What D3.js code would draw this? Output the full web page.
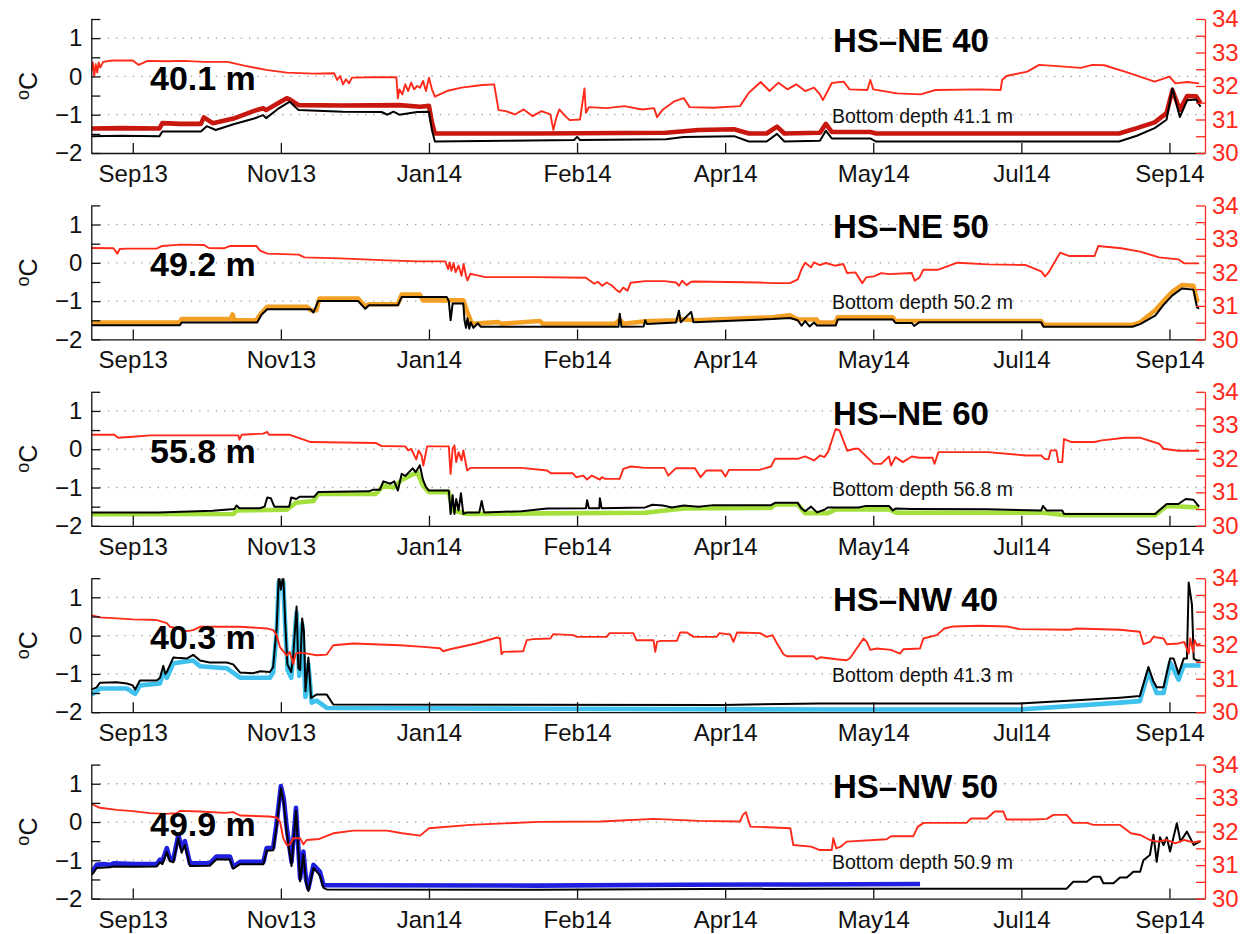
<!DOCTYPE html>
<html>
<head>
<meta charset="utf-8">
<script src="https://cdn.jsdelivr.net/npm/d3@7"></script>
<style>
  html, body { margin: 0; padding: 0; background: #fff; }
  svg { display: block; font-family: "Liberation Sans", Arial, Helvetica, sans-serif; }
</style>
</head>
<body>
<svg id="chart" width="1242" height="934"></svg>
<script>
// ---------------- data ----------------
// time axis: day offsets are counted from startDate
const startDate = new Date(2013, 8, 9);
const endDate = new Date(2014, 8, 20);
const tickDates = ["2013-09-23", "2013-11-12", "2014-01-01", "2014-02-20",
                   "2014-04-11", "2014-05-31", "2014-07-20", "2014-09-08"];
const tickLabels = ["Sep13", "Nov13", "Jan14", "Feb14", "Apr14", "May14", "Jul14", "Sep14"];
const tempTicks = [-2, -1.5, -1, -0.5, 0, 0.5, 1, 1.5];
const tempGrid = [-1, 0, 1];
const salTicks = [30, 30.5, 31, 31.5, 32, 32.5, 33, 33.5, 34];

const stations = ["HS\u2013NE 40", "HS\u2013NE 50", "HS\u2013NE 60", "HS\u2013NW 40", "HS\u2013NW 50"];
const sensorDepths = ["40.1 m", "49.2 m", "55.8 m", "40.3 m", "49.9 m"];
const bottomDepths = ["Bottom depth 41.1 m", "Bottom depth 50.2 m", "Bottom depth 56.8 m",
                      "Bottom depth 41.3 m", "Bottom depth 50.9 m"];
const sensorColors = ["#c8170f", "#f3a024", "#a3e03c", "#3ec1ec", "#1f1fe0"];

// [day, salinity]
const ne40Sal = [[0,32.45],[0.5,32.7],[1,32.3],[1.5,32.65],[2,32.4],[2.5,32.7],[3,32.55],[4,32.72],[7,32.76],[14,32.76],[16,32.63],[19,32.75],[25,32.74],[31,32.75],[38,32.72],[46,32.72],[52,32.6],[59,32.48],[66,32.4],[75,32.37],[82,32.38],[83,32.18],[84,32.3],[85,32.05],[86,32.2],[87,32.08],[88,32.25],[95,32.26],[103,32.26],[103.5,31.63],[104,31.9],[105,31.75],[106,32.05],[107,31.85],[108,32.1],[109,31.9],[110,32.0],[111,31.95],[112,32.15],[113,31.85],[114,32.25],[115,31.9],[116,31.68],[120,31.85],[125,31.95],[132,32.03],[136,32.05],[137.5,31.28],[140,31.25],[143,31.15],[146,31.3],[149,31.1],[152,31.25],[155,31.15],[156,30.69],[157,31.05],[158,31.3],[160,31.1],[161.5,30.98],[165,31.0],[166.5,31.93],[167,31.2],[168,31.37],[174,31.34],[180,31.4],[186,31.3],[190,31.34],[191,31.07],[193,31.3],[197,31.55],[200,31.64],[202,31.37],[210,31.35],[219,31.4],[222,31.8],[226,32.12],[229,31.85],[232,32.1],[235,31.9],[238,32.05],[241,31.85],[244,31.95],[246,31.75],[247,31.58],[250,32.09],[254,32.13],[256,31.9],[262,31.88],[263,32.18],[264,31.9],[272,31.78],[280,31.75],[285,31.88],[300,31.9],[307,31.88],[307.5,32.18],[309,32.3],[316,32.43],[320,32.63],[325,32.6],[334,32.54],[338,32.63],[342,32.62],[350,32.4],[359,32.13],[364,32.28],[366,32.08],[370,32.12],[374,32.08]];
// [day, temperature] at sensor depth
const ne40Temp = [[0,-1.36],[10,-1.35],[23,-1.36],[24,-1.22],[30,-1.24],[37,-1.24],[38,-1.07],[41,-1.22],[48,-1.1],[55,-0.9],[58,-0.83],[59,-0.88],[63,-0.7],[66,-0.57],[67,-0.6],[70,-0.75],[85,-0.76],[104,-0.75],[111,-0.79],[114,-0.77],[115,-1.2],[116,-1.49],[150,-1.49],[194,-1.47],[205,-1.4],[217,-1.38],[222,-1.49],[228,-1.49],[231.5,-1.31],[234,-1.49],[246,-1.47],[248,-1.24],[250,-1.45],[263,-1.45],[265,-1.49],[347,-1.49],[353,-1.35],[359,-1.2],[363,-0.96],[365,-0.36],[367.5,-0.87],[370,-0.51],[373,-0.52],[374.5,-0.7]];
// [day, temperature] near the bottom
const ne40Bot = [[0,-1.56],[10,-1.55],[23,-1.56],[24,-1.44],[37,-1.44],[39,-1.3],[42,-1.4],[48,-1.25],[55,-1.1],[58,-1.01],[59,-1.09],[63,-0.85],[67,-0.66],[70,-0.88],[85,-0.92],[98,-0.93],[100,-1.0],[102,-0.92],[104,-1.0],[110,-0.93],[114,-0.92],[115,-1.4],[116,-1.7],[140,-1.68],[163,-1.66],[164,-1.58],[165,-1.66],[194,-1.64],[200,-1.58],[217,-1.56],[222,-1.7],[228,-1.7],[231.5,-1.5],[234,-1.7],[246,-1.68],[248,-1.42],[250,-1.62],[263,-1.62],[265,-1.7],[347,-1.7],[353,-1.55],[359,-1.35],[363,-1.13],[365,-0.31],[367.5,-1.06],[370,-0.62],[373,-0.6],[374.5,-0.79]];

const ne50Sal = [[0,32.73],[7.5,32.72],[8.8,32.56],[9.6,32.7],[12,32.71],[22,32.71],[24,32.79],[30,32.83],[38,32.82],[39.7,32.73],[44.7,32.72],[47,32.79],[55.7,32.79],[57,32.65],[59.4,32.56],[70,32.53],[72,32.45],[84,32.42],[100,32.36],[110,32.33],[119.5,32.33],[120.5,32.1],[121,32.3],[121.6,32.05],[122.3,32.28],[123,32.0],[124,32.2],[125,31.9],[125.7,32.25],[126.5,31.9],[127,31.76],[128,31.96],[130,31.92],[133,31.86],[150,31.86],[167,31.84],[169.8,31.66],[171,31.72],[172.5,31.6],[174,31.7],[175.9,31.6],[177,31.5],[178.4,31.41],[179.6,31.55],[181,31.45],[182.1,31.69],[187,31.74],[193.5,31.74],[197.4,31.7],[198.4,31.6],[199.5,31.75],[201,31.62],[202.5,31.72],[203.8,31.73],[225.6,31.7],[230,31.68],[235.9,31.68],[238.5,31.79],[239.8,32.1],[241,32.29],[243,32.15],[244,32.3],[246,32.22],[248,32.28],[251,32.2],[253.9,32.25],[255.2,31.98],[258,32.0],[260.3,31.68],[261.6,31.85],[264.2,31.88],[266.7,31.98],[269.3,31.95],[277,31.98],[278,31.75],[279.6,31.85],[280.9,32.08],[286,32.08],[292.4,32.29],[302.7,32.24],[315.5,32.22],[320.7,32.03],[322,31.88],[323.2,32.0],[327.1,32.59],[330,32.49],[338.7,32.49],[340,32.79],[347.7,32.72],[354.1,32.62],[360.5,32.45],[367,32.39],[369,32.27],[374,32.27]];
const ne50Temp = [[0,-1.56],[29.9,-1.56],[30.5,-1.47],[47,-1.47],[47.7,-1.35],[48.3,-1.5],[55.7,-1.5],[57,-1.35],[59.4,-1.15],[72.9,-1.15],[74.1,-1.24],[76,-1.24],[77,-0.93],[90.1,-0.93],[92.5,-1.15],[93.7,-1.08],[103.5,-1.08],[104.8,-0.83],[110.9,-0.83],[112,-0.98],[125.6,-0.98],[127,-1.3],[128.5,-1.59],[137.3,-1.55],[138.5,-1.59],[151.4,-1.52],[152.5,-1.59],[177,-1.59],[178.4,-1.48],[179.6,-1.59],[187,-1.53],[197.4,-1.5],[198.4,-1.47],[203.8,-1.5],[230,-1.42],[235.9,-1.37],[238.5,-1.48],[244.9,-1.48],[245.5,-1.56],[251.3,-1.56],[252,-1.42],[270.6,-1.42],[271.5,-1.52],[320.7,-1.52],[321.5,-1.62],[351.5,-1.62],[354,-1.56],[359.2,-1.24],[362,-1.0],[365,-0.75],[368.2,-0.58],[372.1,-0.6],[373.3,-0.98],[374,-1.0]];
const ne50Bot = [[0,-1.63],[29.9,-1.63],[30.5,-1.56],[56,-1.56],[57.5,-1.35],[59.4,-1.21],[74,-1.21],[75,-1.3],[76.6,-1.0],[90.1,-1.0],[92.5,-1.2],[93.7,-1.11],[103.5,-1.11],[104.8,-0.89],[120,-0.89],[120.7,-1.0],[121.3,-1.5],[122,-1.06],[125.6,-1.06],[126,-1.5],[126.5,-1.7],[127,-1.45],[127.6,-1.72],[128.1,-1.55],[129,-1.7],[130.5,-1.58],[131.5,-1.67],[178,-1.67],[178.4,-1.33],[179,-1.67],[186.5,-1.66],[187,-1.5],[187.6,-1.6],[197.4,-1.56],[198.4,-1.25],[199,-1.55],[202.5,-1.28],[203.3,-1.55],[230,-1.47],[235.9,-1.44],[238.5,-1.5],[239.8,-1.64],[241,-1.52],[242.5,-1.66],[244,-1.56],[245,-1.64],[251.3,-1.64],[252,-1.48],[270.6,-1.48],[271.5,-1.57],[277,-1.57],[277.8,-1.65],[279.6,-1.55],[320.7,-1.55],[321.5,-1.67],[351.5,-1.67],[354.1,-1.6],[359.2,-1.38],[362,-1.1],[365,-0.85],[368.2,-0.67],[372.1,-0.7],[373.3,-1.16],[374,-1.2]];

const ne60Sal = [[0,32.72],[7.8,32.72],[9,32.63],[14,32.66],[20,32.7],[49.6,32.7],[50,32.57],[50.8,32.72],[58,32.75],[59.4,32.8],[60,32.72],[66.8,32.72],[74.1,32.5],[96.2,32.47],[98,32.38],[106,32.37],[107,32.25],[108,32.3],[109.7,31.98],[110.5,32.25],[111.5,32.1],[112.1,31.8],[113,32.2],[113.4,32.37],[120.7,32.37],[121.3,31.55],[122,32.3],[122.6,32.4],[123.2,31.9],[124,32.2],[125,31.95],[125.6,32.25],[126.9,31.65],[128.1,31.73],[145.3,31.73],[153.9,31.65],[155.1,31.57],[162.5,31.57],[163.7,31.45],[166,31.5],[167.4,31.38],[169,31.5],[171.7,31.38],[172.3,31.45],[173.5,31.4],[178.4,31.4],[179.6,31.7],[182.1,31.77],[187.1,31.73],[193.5,31.73],[194.8,31.5],[197.4,31.72],[203.8,31.72],[205.7,31.45],[207.6,31.65],[212.8,31.65],[214.1,31.47],[215.3,31.67],[225.6,31.67],[229.5,31.77],[230.8,32.0],[238.5,32.0],[241,32.07],[244,31.95],[246,32.1],[247.5,32.05],[248.7,32.2],[251.3,32.89],[252.6,32.85],[255.2,32.24],[257.7,32.3],[259,32.3],[264.2,31.85],[266.7,31.85],[269.3,32.07],[270,31.8],[271.5,32.05],[274,31.9],[277,32.07],[279.6,32.03],[284,32.03],[284.7,31.85],[286,32.2],[302.7,32.2],[315.5,32.1],[320.7,32.1],[322,31.99],[323.2,31.99],[323.9,32.25],[325.8,32.25],[326.5,31.9],[327.8,31.9],[328.4,32.59],[331,32.5],[338.7,32.5],[341.2,32.55],[348.9,32.63],[354,32.63],[360.5,32.45],[362,32.3],[367,32.24],[374,32.24]];
const ne60Temp = [[0,-1.7],[48,-1.69],[49,-1.6],[66,-1.58],[69,-1.4],[75,-1.35],[76.6,-1.17],[96,-1.17],[98.6,-0.95],[102,-1.0],[104.8,-0.8],[110,-0.6],[112,-0.95],[114,-1.12],[120.7,-1.12],[122,-1.6],[126.9,-1.69],[187,-1.66],[200,-1.55],[229.5,-1.53],[230.8,-1.44],[238.5,-1.44],[241,-1.67],[248.7,-1.67],[251.3,-1.57],[269.3,-1.57],[271.9,-1.66],[321,-1.66],[328.4,-1.72],[359.2,-1.72],[363.1,-1.48],[374,-1.52]];
const ne60Bot = [[0,-1.65],[22.6,-1.65],[41,-1.61],[48.3,-1.56],[49,-1.47],[50,-1.54],[56.9,-1.54],[58.5,-1.5],[59.4,-1.26],[60.6,-1.28],[61.8,-1.5],[66.8,-1.5],[67.5,-1.26],[69.2,-1.3],[70.4,-1.24],[75.3,-1.24],[76.6,-1.12],[93.7,-1.1],[95,-1.06],[97.4,-1.06],[98.6,-0.84],[101,-0.9],[102.3,-0.84],[103.5,-1.08],[104.8,-0.64],[106,-0.7],[108.5,-0.5],[109.5,-0.6],[110.9,-0.42],[112,-0.8],[113,-0.99],[114,-1.08],[120.7,-1.08],[121.3,-1.69],[122,-1.2],[122.6,-1.69],[123.2,-1.3],[124,-1.6],[124.8,-1.15],[125.6,-1.69],[126.9,-1.65],[131,-1.65],[131.8,-1.35],[132.6,-1.65],[145.3,-1.62],[153.9,-1.55],[167,-1.54],[167.4,-1.33],[168,-1.54],[171.5,-1.54],[171.7,-1.28],[172.3,-1.54],[187,-1.52],[189.4,-1.45],[193,-1.47],[196,-1.52],[200,-1.47],[205,-1.5],[210,-1.46],[229.5,-1.46],[230.8,-1.4],[238.5,-1.4],[239.8,-1.55],[241,-1.62],[243,-1.5],[245,-1.65],[247.5,-1.58],[248.7,-1.52],[259,-1.52],[261.6,-1.48],[269.3,-1.48],[270.6,-1.6],[271.5,-1.55],[277,-1.56],[302.7,-1.57],[320.7,-1.6],[321.3,-1.48],[322.5,-1.6],[327.8,-1.6],[328.4,-1.69],[359.2,-1.69],[360.5,-1.6],[363.1,-1.43],[367,-1.43],[369.5,-1.3],[372.1,-1.32],[374,-1.5]];

const nw40Sal = [[0,32.9],[2.9,32.83],[8.6,32.8],[14,32.77],[20,32.76],[22.1,32.75],[25.5,32.66],[26.6,32.55],[28.8,32.5],[32.2,32.42],[34.4,32.45],[36.7,32.55],[50,32.55],[59.2,32.5],[61.4,32.45],[62.6,32.3],[63.7,31.94],[66,31.69],[67,31.8],[68.2,31.44],[69,31.75],[70.5,31.78],[73,31.75],[76.1,31.7],[79.5,31.72],[81.7,32.0],[88.5,32.05],[104.2,32.0],[112.1,31.95],[117.7,31.91],[118.8,31.82],[121.1,31.88],[130,32.05],[137,32.23],[138,32.2],[138.5,31.73],[139.1,31.8],[145.8,31.82],[147,32.15],[149.2,32.18],[154.9,32.2],[156,32.33],[162.8,32.3],[164,32.25],[174,32.25],[175,32.36],[183,32.36],[184,32.15],[189.8,32.15],[190.4,31.8],[191,32.1],[192.1,32.13],[197.7,32.13],[198.8,32.38],[201.1,32.38],[203.4,32.25],[211.2,32.25],[212,32.36],[215.7,32.32],[216.8,32.1],[218,32.38],[225.8,32.36],[228,32.25],[230,32.3],[231.5,32.05],[233.7,31.73],[234.8,31.67],[243.8,31.67],[244.9,31.58],[246.1,31.64],[251.6,31.58],[255,31.55],[256.2,31.62],[260.7,32.2],[261.8,32.1],[263,31.86],[265.2,31.9],[270,31.86],[273,31.75],[274.2,31.88],[279.8,31.9],[280.9,32.2],[285.4,32.3],[288,32.5],[291,32.56],[300,32.58],[309,32.56],[313.5,32.48],[330.4,32.46],[332.6,32.5],[347.3,32.46],[354,32.4],[355.2,32.03],[357.4,32.1],[358.6,32.25],[362,32.2],[363.1,32.03],[367,32.05],[369,32.1],[370.5,31.75],[371,32.2],[372,31.8],[372.5,32.15],[373.3,32.0],[374.5,32.05]];
const nw40Temp = [[0,-1.55],[1.8,-1.45],[2.9,-1.38],[12,-1.38],[14.8,-1.52],[16.4,-1.3],[23.2,-1.25],[24.3,-0.95],[25.5,-1.1],[27.7,-0.72],[34.4,-0.65],[36.7,-0.8],[45.7,-0.85],[50.2,-1.1],[60.3,-1.1],[61.4,-0.95],[62.6,0.1],[63.3,1.4],[64.8,1.4],[65.5,0.2],[66.3,-0.9],[67.5,-1.1],[69.3,0.6],[70.2,-1.05],[71.2,0.3],[72.3,-1.6],[73.3,-0.75],[74.4,-1.75],[76.1,-1.7],[79.5,-1.89],[150,-1.91],[250,-1.93],[313.5,-1.93],[347.3,-1.75],[354,-1.71],[356.9,-0.95],[359.7,-1.5],[362,-1.5],[364.2,-0.7],[367.1,-1.15],[368.8,-0.78],[374.5,-0.78]];
const nw40Bot = [[0,-1.41],[1.8,-1.35],[2.9,-1.23],[8.6,-1.22],[12,-1.25],[14,-1.3],[14.8,-1.41],[16.4,-1.17],[22.1,-1.17],[23.2,-1.1],[24.3,-0.79],[25,-1.0],[25.5,-0.95],[27.7,-0.57],[28.8,-0.58],[32.2,-0.6],[34.4,-0.5],[36.7,-0.65],[40,-0.7],[45.7,-0.7],[47.9,-0.75],[50.2,-0.96],[54.7,-0.98],[57,-0.93],[60.3,-0.95],[61.4,-0.82],[62.6,0.23],[63.3,1.6],[64,1.2],[64.8,1.6],[65.5,0.3],[66.2,-0.75],[67.5,-0.95],[68.2,-0.5],[69.3,0.76],[69.9,-0.85],[70.5,-0.9],[71.2,0.45],[71.8,0.1],[72.3,-1.45],[73.3,-0.57],[74.2,-1.63],[76,-1.54],[79.5,-1.54],[81.7,-1.8],[213,-1.81],[246,-1.77],[313.5,-1.77],[347.3,-1.62],[354,-1.58],[356.9,-0.82],[358.6,-1.2],[359.7,-1.35],[362,-1.35],[364.2,-0.6],[365.4,-0.6],[367.1,-1.0],[368.8,-0.6],[369.9,-0.6],[370.5,1.39],[371.6,0.81],[372.2,-0.6],[373.3,-0.65],[374.5,-0.65]];

const nw50Sal = [[0,32.83],[2.9,32.71],[8.6,32.65],[14,32.61],[19.8,32.55],[25,32.53],[28.8,32.55],[30,32.62],[36.7,32.6],[45,32.56],[47.9,32.58],[50.2,32.48],[60,32.45],[62.6,32.42],[63.7,32.3],[64.8,31.8],[66,31.6],[67.1,31.62],[68.2,31.8],[70.5,31.8],[71.6,31.62],[72.7,31.75],[77,31.78],[81.7,31.95],[88.5,32.03],[99.8,32.03],[105,31.95],[111,31.88],[114,32.1],[128,32.2],[151,32.29],[172,32.3],[190,32.38],[205,32.32],[219,32.3],[220,32.5],[221,32.58],[222.5,32.15],[236,32.1],[237,31.6],[243,31.55],[246,31.45],[250,31.45],[250.5,31.8],[251.5,31.5],[253,31.55],[255,31.7],[268.5,31.77],[270,31.86],[277.5,31.86],[279,32.14],[281,32.26],[295.5,32.26],[297,32.39],[302.3,32.39],[305,32.6],[307.9,32.6],[309,32.36],[318,32.36],[322.6,32.38],[324.8,32.5],[329.3,32.5],[331.5,32.26],[336.1,32.26],[338.3,32.2],[347.3,32.2],[351,31.95],[354.1,31.9],[357.4,31.75],[360,31.7],[363,31.75],[366,31.65],[369,31.75],[372,31.68],[374.5,31.72]];
const nw50Temp = [[0,-1.3],[0.7,-1.25],[1.8,-1.12],[4,-1.1],[6.3,-1.12],[7.5,-1.08],[15,-1.1],[22.1,-1.1],[23.2,-0.98],[24,-1.02],[25.5,-0.68],[26.5,-0.95],[27.7,-0.98],[29.4,-0.33],[30.5,-0.68],[31.6,-0.5],[33.3,-1.08],[40,-1.08],[42.3,-0.9],[46.8,-0.9],[47.9,-1.17],[50.2,-1.04],[58.1,-1.04],[59.2,-0.68],[61.4,-0.68],[62.6,0.0],[64,0.94],[65,0.6],[66,-0.16],[67.6,-1.04],[69.1,0.37],[70.5,-1.47],[71.6,-0.77],[72.5,-1.5],[73.3,-1.74],[75,-1.12],[77.2,-1.3],[78.4,-1.65],[79.5,-1.65],[150,-1.66],[200,-1.64],[240,-1.63],[279.8,-1.62]];
const nw50Bot = [[0,-1.38],[0.7,-1.33],[1.8,-1.2],[6.3,-1.18],[7.5,-1.16],[15,-1.17],[22.1,-1.16],[23.2,-1.05],[24,-1.1],[25.5,-0.78],[26.5,-1.02],[27.7,-1.05],[29.4,-0.42],[30.5,-0.8],[31.6,-0.6],[33.3,-1.15],[40,-1.14],[42.3,-0.97],[46.8,-0.98],[47.9,-1.22],[50.2,-1.1],[58.1,-1.1],[59.2,-0.75],[61.4,-0.74],[62.6,-0.1],[64,0.88],[65,0.5],[66,-0.3],[67.6,-1.15],[69.1,0.3],[70.5,-1.55],[71.6,-0.85],[72.5,-1.58],[73.3,-1.8],[75,-1.2],[77.2,-1.4],[78.4,-1.72],[79.5,-1.76],[150,-1.77],[246,-1.74],[329.3,-1.74],[331.5,-1.56],[336.1,-1.56],[338.3,-1.43],[340.6,-1.43],[341.7,-1.6],[345.1,-1.6],[347.3,-1.45],[349.6,-1.45],[351.8,-1.3],[354.1,-1.3],[355.2,-1.0],[357.4,-0.86],[358.6,-0.33],[359.7,-1.04],[360.8,-0.4],[362,-0.6],[363.1,-0.4],[364.2,-0.77],[366.5,-0.03],[367.7,-0.51],[369.9,-0.25],[372.2,-0.6],[374.5,-0.5]];

const salinitySeries = [ne40Sal, ne50Sal, ne60Sal, nw40Sal, nw50Sal];
const sensorSeries = [ne40Temp, ne50Temp, ne60Temp, nw40Temp, nw50Temp];
const bottomSeries = [ne40Bot, ne50Bot, ne60Bot, nw40Bot, nw50Bot];

// ---------------- drawing ----------------
const svg = d3.select("#chart");
const FONT = "\"Liberation Sans\", Arial, Helvetica, sans-serif";
const RED = "#ff2a1a";
const left = 91.3, right = 1205, panelH = 134, firstTop = 19, panelStep = 186.4;

const parseDay = d3.timeParse("%Y-%m-%d");
const tickDateValues = tickDates.map(parseDay);
const x = d3.scaleTime().domain([startDate, endDate]).range([left, right]);
const dayToDate = d => new Date(startDate.getTime() + d * 864e5);
const signed = v => String(v).replace("-", "\u2212");

stations.forEach((name, i) => {
  const top = firstTop + i * panelStep;
  const g = svg.append("g").attr("transform", `translate(0,${top})`);
  const yT = d3.scaleLinear().domain([-2, 1.5]).range([panelH, 0]);
  const yS = d3.scaleLinear().domain([30, 34]).range([panelH, 0]);

  const clipId = "clip" + i;
  g.append("clipPath").attr("id", clipId)
    .append("rect").attr("x", left).attr("y", 0)
    .attr("width", right - left).attr("height", panelH);

  // dotted grid at the labelled temperatures
  g.append("g").selectAll("line").data(tempGrid).join("line")
    .attr("x1", left).attr("x2", right)
    .attr("y1", d => yT(d)).attr("y2", d => yT(d))
    .attr("stroke", "#9a9a9a").attr("stroke-width", 1.3)
    .attr("stroke-dasharray", "1.3 7");

  const plot = g.append("g").attr("clip-path", `url(#${clipId})`);
  const lineT = d3.line().x(d => x(dayToDate(d[0]))).y(d => yT(d[1]));
  const lineS = d3.line().x(d => x(dayToDate(d[0]))).y(d => yS(d[1]));

  plot.append("path").datum(sensorSeries[i]).attr("d", lineT)
    .attr("fill", "none").attr("stroke", sensorColors[i])
    .attr("stroke-width", 4.6).attr("stroke-linejoin", "round");
  plot.append("path").datum(bottomSeries[i]).attr("d", lineT)
    .attr("fill", "none").attr("stroke", "#000")
    .attr("stroke-width", 2).attr("stroke-linejoin", "round");
  plot.append("path").datum(salinitySeries[i]).attr("d", lineS)
    .attr("fill", "none").attr("stroke", RED)
    .attr("stroke-width", 1.9).attr("stroke-linejoin", "round");

  // left temperature axis (ticks inside)
  const axL = g.append("g").attr("transform", `translate(${left},0)`)
    .call(d3.axisLeft(yT).tickValues(tempTicks).tickSizeInner(-9).tickSizeOuter(0)
      .tickPadding(9).tickFormat(v => Number.isInteger(v) ? signed(v) : ""));
  axL.attr("font-family", FONT).attr("font-size", 24).attr("color", "#111");
  axL.selectAll("path, line").attr("stroke-width", 1.3);

  // bottom time axis
  const axB = g.append("g").attr("transform", `translate(0,${panelH})`)
    .call(d3.axisBottom(x).tickValues(tickDateValues).tickSizeInner(-10).tickSizeOuter(0)
      .tickPadding(12).tickFormat((d, k) => tickLabels[k]));
  axB.attr("font-family", FONT).attr("font-size", 24).attr("color", "#111");
  axB.selectAll("path, line").attr("stroke-width", 1.3);

  // right salinity axis in red
  const axR = g.append("g").attr("transform", `translate(${right},0)`)
    .call(d3.axisRight(yS).tickValues(salTicks).tickSizeInner(-9).tickSizeOuter(0)
      .tickPadding(7).tickFormat(v => Number.isInteger(v) ? String(v) : ""));
  axR.attr("font-family", FONT).attr("font-size", 24).attr("color", RED);
  axR.selectAll("path, line").attr("stroke-width", 1.3);

  // unit label
  const unit = g.append("text")
    .attr("transform", `translate(37,${panelH / 2}) rotate(-90)`)
    .attr("text-anchor", "middle").attr("font-family", FONT)
    .attr("font-size", 25).attr("fill", "#111");
  unit.append("tspan").attr("font-size", 18).attr("baseline-shift", "45%").text("o");
  unit.append("tspan").text("C");

  // station title, sensor depth and bottom depth
  g.append("text").attr("x", 833).attr("y", 33)
    .attr("font-family", FONT).attr("font-weight", "bold").attr("font-size", 33)
    .attr("fill", "#000").text(name);
  g.append("text").attr("x", 150).attr("y", 71)
    .attr("font-family", FONT).attr("font-weight", "bold").attr("font-size", 34)
    .attr("fill", "#000").text(sensorDepths[i]);
  g.append("text").attr("x", 832).attr("y", 104)
    .attr("font-family", FONT).attr("font-size", 19.5)
    .attr("fill", "#111").text(bottomDepths[i]);
});
</script>
</body>
</html>
